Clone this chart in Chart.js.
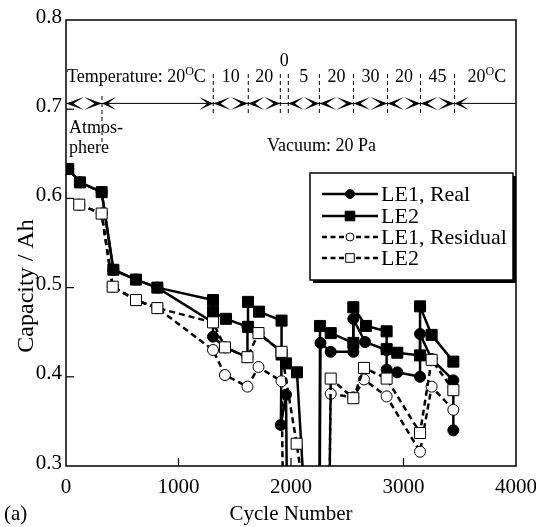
<!DOCTYPE html>
<html><head><meta charset="utf-8">
<script src="https://cdn.jsdelivr.net/npm/chart.js@4/dist/chart.umd.min.js"></script>
<style>html,body{margin:0;padding:0;background:#fff;}</style>
</head><body>
<canvas id="c" width="536" height="527" style="display:block;width:536px;height:527px"></canvas>
<script>
// ---------- DATA ----------
const xTicks = [0, 1000, 2000, 3000, 4000];
const yTicks = [0.3, 0.4, 0.5, 0.6, 0.7, 0.8];

// LE1, Real (filled circles, solid line)
const le1RealCycles = [20,124,317,421,622,812,1307,1307,1413,1613,1613,1711,1916,1910,1956,1968,2252,2262,2353,2554,2554,2658,2850,2850,2945,3147,3147,3250,3443,3443];
const le1RealCap    = [0.633,0.618,0.607,0.520,0.509,0.500,0.461,0.445,0.433,0.422,0.456,0.449,0.428,0.346,0.380,0.20,0.20,0.438,0.428,0.428,0.465,0.439,0.430,0.408,0.405,0.400,0.448,0.420,0.396,0.340];

// LE2, Real (filled squares, solid line)
const le2RealCycles = [20,124,317,421,622,812,1307,1307,1422,1618,1618,1716,1916,1916,1956,2053,2150,2252,2258,2353,2554,2554,2667,2850,2850,2945,3147,3147,3250,3443];
const le2RealCap    = [0.633,0.618,0.607,0.520,0.509,0.500,0.486,0.473,0.465,0.456,0.484,0.473,0.463,0.425,0.415,0.405,0.20,0.20,0.457,0.449,0.438,0.478,0.457,0.451,0.431,0.427,0.424,0.479,0.447,0.417];

// LE1, Residual (open circles, dashed line)
const le1ResCycles = [118,317,415,622,812,1307,1413,1613,1711,1916,1935,2335,2353,2554,2649,2850,3147,3250,3443];
const le1ResCap    = [0.593,0.583,0.501,0.486,0.477,0.430,0.402,0.389,0.411,0.395,0.20,0.20,0.381,0.377,0.397,0.378,0.316,0.389,0.363];

// LE2, Residual (open squares, dashed line)
const le2ResCycles = [118,317,415,622,812,1307,1413,1613,1711,1916,2050,2200,2335,2353,2554,2649,2850,3147,3250,3443];
const le2ResCap    = [0.593,0.583,0.501,0.486,0.477,0.461,0.433,0.422,0.449,0.428,0.325,0.20,0.20,0.398,0.376,0.410,0.398,0.337,0.419,0.385];

// Test-condition periods (cycle boundaries) and temperatures
const periodBounds = [0,320,1309,1620,1905,1976,2252,2555,2858,3151,3454,4000];
const periodTemps  = [20,20,10,20,0,5,20,30,20,45,20];
const arrowLevel = 0.7065;
// ------------------------------------------------------------

const SERIF = '"Liberation Serif","Times New Roman",serif';
function pts(xs, ys){ return xs.map((x,i)=>({x:x, y:ys[i]})); }

const seriesStyle = [
  {label:'LE1, Real',     style:'circle', fill:'#000', dash:[],    r:5.5, lr:4.5, lw:2.5, order:3, xs:le1RealCycles, ys:le1RealCap},
  {label:'LE2',           style:'rect',   fill:'#000', dash:[],    r:7.8, lr:4.8, lw:2.5, order:2, xs:le2RealCycles, ys:le2RealCap},
  {label:'LE1, Residual', style:'circle', fill:'#fff', dash:[6,4], r:5.5, lr:4,   lw:2.5, order:1, xs:le1ResCycles,  ys:le1ResCap},
  {label:'LE2',           style:'rect',   fill:'#fff', dash:[6,4], r:7.8, lr:4.3, lw:2.5, order:0, xs:le2ResCycles,  ys:le2ResCap}
];

const datasets = seriesStyle.map(s => ({
  label: s.label,
  data: pts(s.xs, s.ys),
  borderColor:'#000', borderWidth:s.lw, borderDash:s.dash,
  pointStyle:s.style, pointRadius:s.r, pointBackgroundColor:s.fill,
  pointBorderColor:'#000', pointBorderWidth:1, order:s.order,
  tension:0, fill:false, showLine:true
}));

function drawTemp(ctx, x, y, num, withUnit, align){
  ctx.font = '18px ' + SERIF;
  const wNum = ctx.measureText(num).width;
  let wO=0, wC=0;
  if (withUnit){
    ctx.font = '12px ' + SERIF; wO = ctx.measureText('O').width;
    ctx.font = '18px ' + SERIF; wC = ctx.measureText('C').width;
  }
  const total = wNum + wO + wC;
  let sx = align === 'center' ? x - total/2 : x;
  ctx.textAlign='left'; ctx.textBaseline='alphabetic';
  ctx.font = '18px ' + SERIF; ctx.fillText(num, sx, y);
  if (withUnit){
    ctx.font = '12px ' + SERIF; ctx.fillText('O', sx + wNum, y - 7);
    ctx.font = '18px ' + SERIF; ctx.fillText('C', sx + wNum + wO, y);
  }
}

function arrowHead(ctx, tipX, y, dir, L, w){
  ctx.beginPath();
  ctx.moveTo(tipX, y);
  ctx.lineTo(tipX - dir*L, y - w);
  ctx.lineTo(tipX - dir*0.42*L, y);
  ctx.lineTo(tipX - dir*L, y + w);
  ctx.closePath(); ctx.fill();
}

function drawMarker(ctx, style, fill, x, y, r){
  ctx.beginPath();
  if (style === 'circle') ctx.arc(x, y, r, 0, Math.PI*2);
  else ctx.rect(x - r, y - r, 2*r, 2*r);
  ctx.fillStyle = fill; ctx.fill();
  ctx.lineWidth = 1; ctx.strokeStyle = '#000'; ctx.setLineDash([]); ctx.stroke();
}

const decor = {
  id:'decor',
  afterDatasetsDraw(chart){
    const {ctx, chartArea:a} = chart;
    const xs = chart.scales.x, ys = chart.scales.y;
    ctx.save();
    ctx.fillStyle = '#000'; ctx.strokeStyle = '#000';

    // frame
    ctx.lineWidth = 1.5; ctx.setLineDash([]);
    ctx.strokeRect(a.left, a.top, a.right - a.left, a.bottom - a.top);

    // inner tick marks
    ctx.lineWidth = 1.2;
    xTicks.forEach(v => {
      if (v <= xs.min || v >= xs.max) return;
      const px = xs.getPixelForValue(v);
      ctx.beginPath(); ctx.moveTo(px, a.bottom); ctx.lineTo(px, a.bottom - 8); ctx.stroke();
    });
    yTicks.forEach(v => {
      if (v <= ys.min + 1e-9 || v >= ys.max - 1e-9) return;
      const py = ys.getPixelForValue(v);
      ctx.beginPath(); ctx.moveTo(a.left, py); ctx.lineTo(a.left + 8, py); ctx.stroke();
    });

    // condition arrows
    const ay = ys.getPixelForValue(arrowLevel);
    ctx.lineWidth = 1;
    ctx.beginPath(); ctx.moveTo(a.left, ay); ctx.lineTo(a.right, ay); ctx.stroke();
    for (let i = 0; i < periodBounds.length - 1; i++){
      const x0 = xs.getPixelForValue(periodBounds[i]);
      const x1 = xs.getPixelForValue(periodBounds[i+1]);
      const w = x1 - x0;
      if (w < 15) continue;
      const last = (i === periodBounds.length - 2);
      const L = w < 45 ? w/2 : 14;
      if (w < 45){
        ctx.beginPath();
        ctx.moveTo(x0 + 0.42*L, ay); ctx.lineTo(x0 + L, ay - 6.5);
        ctx.lineTo(x1 - 0.42*L, ay); ctx.lineTo(x0 + L, ay + 6.5); ctx.closePath();
        ctx.fillStyle = '#fff'; ctx.fill(); ctx.fillStyle = '#000';
      }
      arrowHead(ctx, x0, ay, -1, L, 6.5);
      if (!last) arrowHead(ctx, x1, ay, 1, L, 6.5);
    }

    // dashed period separators
    ctx.setLineDash([4,3]); ctx.lineWidth = 1;
    for (let i = 1; i < periodBounds.length - 1; i++){
      const px = xs.getPixelForValue(periodBounds[i]);
      ctx.beginPath();
      if (i === 1){ ctx.moveTo(px, 96); ctx.lineTo(px, 144); }
      else { ctx.moveTo(px, 74); ctx.lineTo(px, 116); }
      ctx.stroke();
    }
    ctx.setLineDash([]);

    // temperature labels
    ctx.fillStyle = '#000';
    ctx.font = '18px ' + SERIF; ctx.textAlign = 'left'; ctx.textBaseline = 'alphabetic';
    const tw = ctx.measureText('Temperature: ').width;
    ctx.fillText('Temperature: ', a.left + 1, 82);
    drawTemp(ctx, a.left + 1 + tw, 82, String(periodTemps[1]), true, 'left');
    for (let i = 2; i < periodTemps.length - 1; i++){
      const mid = xs.getPixelForValue((periodBounds[i] + periodBounds[i+1]) / 2);
      const narrow = xs.getPixelForValue(periodBounds[i+1]) - xs.getPixelForValue(periodBounds[i]) < 15;
      drawTemp(ctx, mid, narrow ? 66 : 82, String(periodTemps[i]), false, 'center');
    }
    drawTemp(ctx, xs.getPixelForValue(periodBounds[periodBounds.length-2]) + 13, 82, String(periodTemps[periodTemps.length-1]), true, 'left');

    ctx.font = '18px ' + SERIF; ctx.textAlign = 'left';
    ctx.fillText('Atmos-', a.left + 3, 133);
    ctx.fillText('phere', a.left + 3, 153);
    ctx.fillText('Vacuum: 20 Pa', 267, 151);

    // legend
    const bx = 310, by = 173, bw = 203, bh = 107;
    ctx.fillStyle = '#000'; ctx.fillRect(bx + 3, by + 3, bw, bh);
    ctx.fillStyle = '#fff'; ctx.fillRect(bx, by, bw, bh);
    ctx.lineWidth = 1.5; ctx.strokeStyle = '#000'; ctx.strokeRect(bx, by, bw, bh);
    const rows = [194, 216, 237, 258];
    seriesStyle.forEach((s, i) => {
      const ry = rows[i];
      ctx.lineWidth = 2.5; ctx.setLineDash(s.dash.length ? [5,3.5] : []);
      ctx.beginPath(); ctx.moveTo(322, ry); ctx.lineTo(378, ry); ctx.stroke();
      ctx.setLineDash([]);
      drawMarker(ctx, s.style, s.fill, 350, ry, s.lr);
      ctx.fillStyle = '#000'; ctx.font = '22px ' + SERIF; ctx.textAlign = 'left'; ctx.textBaseline = 'middle';
      ctx.fillText(s.label, 381, ry + 1);
    });

    // axis titles and panel tag
    ctx.fillStyle = '#000'; ctx.textBaseline = 'alphabetic';
    ctx.font = '21px ' + SERIF; ctx.textAlign = 'center';
    ctx.fillText('Cycle Number', (a.left + a.right) / 2, 520);
    ctx.textAlign = 'left';
    ctx.fillText('(a)', 4, 520);
    ctx.save();
    ctx.translate(33, 286); ctx.rotate(-Math.PI/2);
    ctx.textAlign = 'center'; ctx.font = '24px ' + SERIF;
    ctx.fillText('Capacity / Ah', 0, 0);
    ctx.restore();

    ctx.restore();
  }
};

new Chart(document.getElementById('c').getContext('2d'), {
  type:'line',
  data:{ datasets: datasets },
  options:{
    responsive:false, animation:false, devicePixelRatio:1,
    layout:{ padding:{ left:0, right:20, top:20, bottom:0 } },
    plugins:{ legend:{ display:false }, tooltip:{ enabled:false } },
    scales:{
      x:{
        type:'linear', min:0, max:4000,
        afterBuildTicks(s){ s.ticks = xTicks.map(v => ({value:v})); },
        ticks:{ color:'#000', font:{ family:SERIF, size:21 }, padding:9, maxRotation:0, autoSkip:false,
                callback:(v)=>String(v) },
        grid:{ display:false, drawTicks:false }, border:{ display:false },
        afterFit(s){ s.height = 61; s.paddingRight = 20; s.paddingLeft = 0; }
      },
      y:{
        type:'linear', min:0.3, max:0.8,
        afterBuildTicks(s){ s.ticks = yTicks.map(v => ({value:v})); },
        ticks:{ color:'#000', font:{ family:SERIF, size:21 }, padding:4, labelOffset:-3,
                callback:(v)=>Number(v).toFixed(1) },
        grid:{ display:false, drawTicks:false }, border:{ display:false },
        afterFit(s){ s.width = 66; s.paddingTop = 0; s.paddingBottom = 0; }
      }
    }
  },
  plugins:[decor]
});
</script>
</body></html>
